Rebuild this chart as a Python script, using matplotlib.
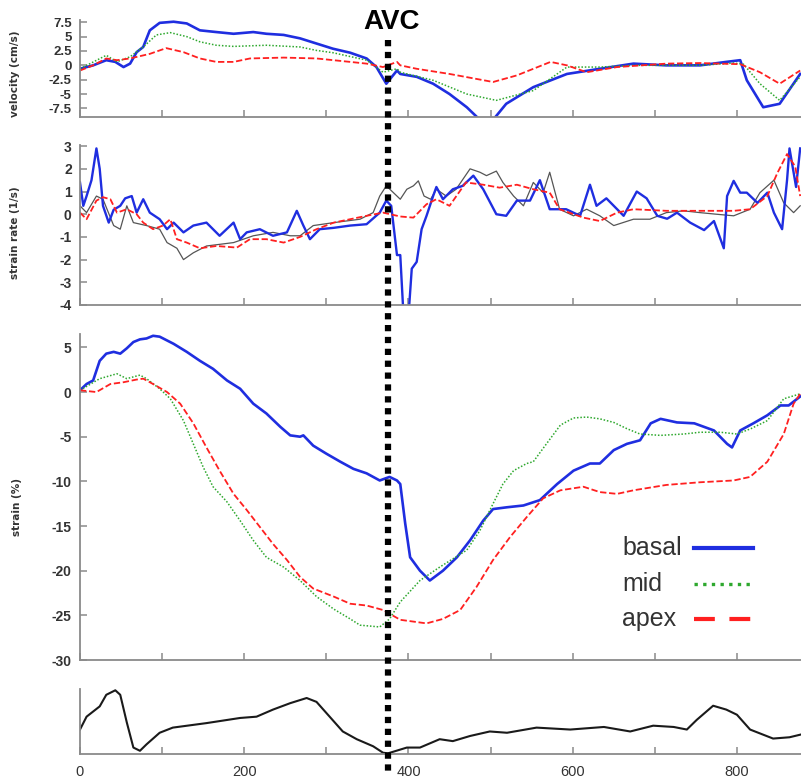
import matplotlib
matplotlib.use("Agg")
import matplotlib.pyplot as plt
from matplotlib.lines import Line2D
from matplotlib.transforms import blended_transform_factory

plt.rcParams['axes.unicode_minus'] = False

# ---------------- data ----------------
AVC = 375
x_ticks = [0, 100, 200, 300, 400, 500, 600, 700, 800]
x_tick_labels = ['0', '', '200', '', '400', '', '600', '', '800']

# velocity (cm/s)
vel_basal_x = [0, 16, 32, 43, 53, 61, 69, 77, 85, 97, 114, 130, 146, 166, 187, 211, 227, 248, 268, 288, 308, 329, 349, 361, 373, 386,
               390, 410, 430, 450, 471, 487, 503, 519, 552, 593, 633, 674, 714, 755, 787, 804, 812, 832, 852, 877]
vel_basal_y = [-0.6, 0.0, 0.9, 0.6, -0.3, 0.3, 2.3, 3.2, 6.1, 7.4, 7.6, 7.3, 6.1, 5.8, 5.5, 5.8, 5.5, 5.3, 4.7, 3.8, 2.9, 2.2, 1.2, -0.3, -3.2, -0.9,
               -1.5, -2.0, -3.2, -5.0, -7.3, -9.5, -9.5, -6.7, -3.8, -1.5, -0.6, 0.3, 0.0, 0.0, 0.6, 0.9, -2.6, -7.3, -6.7, -1.5]
vel_mid_x = [0, 32, 45, 61, 77, 93, 110, 130, 146, 166, 187, 227, 268, 288, 308, 349, 369, 386,
             390, 430, 471, 507, 552, 581, 593, 633, 674, 714, 755, 796, 808, 828, 852, 877]
vel_mid_y = [-0.6, 1.75, 0.6, 1.5, 3.2, 5.3, 5.7, 5.0, 4.1, 3.5, 3.3, 3.5, 3.2, 2.6, 2.2, 0.9, -1.2, -0.6,
             -1.2, -2.6, -5.0, -6.1, -4.4, -1.5, -0.3, -0.3, 0.0, 0.0, 0.0, 0.4, 0.2, -3.2, -6.1, -2.0]
vel_apex_x = [0, 16, 32, 45, 61, 85, 105, 126, 146, 166, 187, 207, 248, 288, 329, 349, 369, 386,
              390, 410, 450, 503, 532, 573, 593, 617, 654, 714, 755, 804, 828, 852, 877]
vel_apex_y = [-0.9, 0.0, 1.2, 0.9, 1.2, 2.0, 3.0, 2.3, 1.2, 0.6, 0.6, 1.2, 1.35, 1.2, 0.6, 0.3, -0.3, 0.6,
              0.0, -0.6, -1.5, -2.9, -1.75, 0.6, 0.0, -1.2, -0.3, 0.3, 0.4, 0.2, -1.2, -3.2, -0.9]

# strain rate (1/s)
sr_basal_x = [0, 4, 8, 14, 20, 24, 28, 35, 41, 49, 55, 63, 69, 77, 85, 97, 106, 114, 126, 138, 154, 170, 187, 195, 203, 219,
              235, 252, 264, 272, 280, 292, 309, 329, 349, 365, 373, 379, 386,
              390, 394, 400, 404, 410, 416, 422, 430, 434, 442, 454, 466, 479, 491, 507, 519, 532, 548, 560, 572, 592,
              609, 621, 629, 641, 662, 678, 690, 703, 715, 727, 743, 760, 772, 784, 788, 796, 804, 812, 825, 837,
              845, 855, 861, 864, 872, 877]
sr_basal_y = [1.4, 0.37, 0.8, 1.5, 2.9, 2.0, 0.37, -0.37, 0.2, 0.37, 0.7, 0.8, 0.07, 0.66, 0.07, -0.22, -0.66, -0.37, -0.8, -0.5,
              -0.37, -0.95, -0.37, -1.1, -0.8, -0.66, -0.95, -0.8, 0.15, -0.5, -1.1, -0.66, -0.6, -0.5, -0.44, 0.07, 0.6, 0.37, -1.8,
              -1.8, -4.5, -4.5, -2.4, -2.1, -0.66, -0.07, 0.8, 1.2, 0.66, 1.1, 1.25, 1.7, 1.1, 0.0, -0.07, 0.6, 0.6, 1.5, 0.22, 0.22,
              -0.07, 1.3, 0.37, 0.7, -0.07, 1.0, 0.7, -0.07, -0.2, 0.07, -0.37, -0.7, -0.3, -1.5, 0.8, 1.47, 0.95, 0.95, 0.5, 0.95,
              0.07, -0.66, 1.5, 2.9, 1.2, 2.9]
sr_mid_x = [0, 8, 20, 28, 41, 49, 57, 65, 81, 97, 106, 118, 126, 138, 154, 187, 211, 235, 256, 268, 284, 309, 341, 357, 365, 373, 386,
            390, 398, 406, 412, 419, 427, 434, 446, 458, 475, 487, 495, 507, 515, 528, 540, 552, 564, 572, 584, 601, 617, 633,
            650, 674, 694, 714, 735, 755, 775, 796, 816, 828, 845, 857, 869, 877]
sr_mid_y = [0.37, 0.07, 0.8, 0.66, -0.5, -0.66, 0.37, -0.37, -0.5, -0.66, -1.25, -1.5, -2.0, -1.7, -1.4, -1.25, -0.95, -0.8, -0.95,
            -0.95, -0.5, -0.37, -0.22, 0.07, 0.8, 1.25, 0.8,
            0.66, 1.1, 1.25, 1.47, 0.8, 0.66, 1.1, 0.8, 1.1, 2.0, 1.85, 1.7, 1.9, 1.4, 0.8, 0.37, 1.4, 0.95, 1.85, 0.22, -0.07, 0.22,
            -0.07, -0.5, -0.22, -0.22, 0.07, 0.15, 0.07, 0.0, -0.07, 0.22, 0.95, 1.5, 0.5, 0.07, 0.37]
sr_apex_x = [0, 8, 20, 28, 37, 45, 57, 69, 77, 89, 101, 110, 118, 130, 146, 166, 191, 207, 227, 248, 268, 288, 309, 329, 349, 369,
             390, 406, 422, 434, 450, 470, 491, 511, 532, 552, 572, 584, 613, 633, 654, 674, 714, 755, 796, 816, 837, 849,
             861, 871, 877]
sr_apex_y = [0.07, -0.22, 0.6, 0.75, 0.66, 0.07, 0.22, 0.0, -0.37, -0.66, -0.5, -0.22, -1.1, -1.25, -1.5, -1.4, -1.47, -1.1, -1.1,
             -1.25, -1.0, -0.66, -0.37, -0.22, -0.07, 0.07, -0.1, -0.15, 0.44, 0.66, 0.37, 1.4, 1.3, 1.17, 1.3, 1.1, 0.95, 0.22,
             -0.15, -0.3, 0.07, 0.22, 0.15, 0.15, 0.15, 0.22, 0.8, 1.8, 2.65, 2.1, 0.8]

# strain (%)
st_basal_x = [0, 8, 16, 24, 32, 41, 49, 57, 65, 73, 81, 89, 97, 114, 130, 146, 162, 179, 195, 211, 227, 244, 256, 268, 272, 284,
              300, 317, 333, 349, 365, 377, 386, 390, 396, 402, 414, 426, 442, 459, 475, 491, 503, 520, 540, 560, 581, 601,
              621, 633, 650, 666, 682, 695, 707, 727, 748, 772, 788, 794, 804, 820, 837, 853, 863, 877]
st_basal_y = [0.2, 0.9, 1.3, 3.5, 4.3, 4.5, 4.3, 4.9, 5.6, 5.9, 6.0, 6.3, 6.2, 5.4, 4.5, 3.5, 2.6, 1.3, 0.37, -1.3, -2.4, -3.9,
              -4.85, -5.0, -4.85, -6.0, -6.9, -7.8, -8.6, -9.1, -9.9, -9.5, -9.9, -10.3, -14.7, -18.5, -20.0, -21.1, -20.0,
              -18.5, -16.6, -14.4, -13.1, -12.9, -12.7, -12.1, -10.3, -8.8, -8.0, -8.0, -6.5, -5.8, -5.4, -3.5, -3.0, -3.4,
              -3.5, -4.3, -5.8, -6.2, -4.3, -3.5, -2.6, -1.5, -1.5, -0.5]
st_mid_x = [0, 24, 45, 57, 73, 81, 97, 110, 126, 138, 150, 162, 179, 195, 211, 227, 248, 268, 288, 309, 329, 341, 365, 377,
            390, 414, 438, 471, 487, 503, 515, 528, 544, 552, 568, 585, 601, 617, 633, 650, 666, 682, 707, 735, 755, 780,
            800, 817, 837, 857, 877]
st_mid_y = [0.2, 1.5, 2.05, 1.5, 1.9, 1.5, 0.37, -0.75, -3.2, -5.8, -8.4, -10.6, -12.3, -14.4, -16.6, -18.5, -19.6, -21.1,
            -22.9, -24.3, -25.4, -26.1, -26.3, -25.4, -23.5, -21.1, -19.6, -17.7, -15.5, -12.5, -10.3, -8.8, -8.0, -7.8,
            -5.8, -3.7, -2.9, -2.8, -3.0, -3.4, -4.1, -4.7, -4.85, -4.7, -4.5, -4.5, -4.7, -4.1, -3.2, -0.75, -0.2]
st_apex_x = [0, 20, 37, 53, 69, 77, 89, 106, 122, 138, 154, 170, 187, 203, 219, 235, 252, 268, 284, 309, 329, 349, 369,
             390, 422, 442, 463, 483, 503, 524, 544, 564, 585, 613, 633, 654, 674, 714, 755, 796, 816, 837, 857, 869, 877]
st_apex_y = [0.2, 0.0, 0.9, 1.1, 1.4, 1.5, 0.9, 0.0, -1.3, -3.5, -6.2, -8.8, -11.4, -13.2, -15.1, -17.0, -18.8, -20.7,
             -22.0, -22.9, -23.7, -23.9, -24.4, -25.5, -25.9, -25.4, -24.4, -21.8, -18.8, -16.2, -14.0, -11.9, -11.0,
             -10.6, -11.2, -11.4, -11.0, -10.4, -10.1, -9.9, -9.5, -7.8, -4.7, -1.3, -0.2]

# ECG (arbitrary units)
ecg_x = [0, 8, 16, 24, 32, 43, 49, 57, 65, 73, 81, 97, 113, 154, 195, 215, 235, 256, 276, 288, 304, 320, 337, 357, 369, 375,
         398, 414, 438, 454, 475, 499, 520, 556, 597, 638, 670, 698, 723, 739, 751, 771, 787, 800, 816, 844, 864, 877]
ecg_y = [0.37, 0.57, 0.65, 0.73, 0.91, 0.98, 0.91, 0.48, 0.09, 0.04, 0.14, 0.32, 0.40, 0.47, 0.55, 0.57, 0.68, 0.78, 0.86,
         0.80, 0.57, 0.34, 0.22, 0.11, 0.01, 0.0, 0.09, 0.09, 0.22, 0.19, 0.27, 0.34, 0.32, 0.40, 0.37, 0.41, 0.34, 0.43,
         0.41, 0.37, 0.52, 0.74, 0.68, 0.60, 0.37, 0.23, 0.25, 0.29]

series_labels = ['basal', 'mid', 'apex']

# ---------------- styling ----------------
BLUE = '#1f2ee0'
GREEN = '#2ea82e'
RED = '#ff2020'
GRAY_LINE = '#555555'
SPINE = '#8a8a8a'
TXT = '#333333'
TICK_FONT = ['Liberation Sans Narrow', 'Liberation Sans', 'DejaVu Sans']

W, H = 801, 781
fig = plt.figure(figsize=(W / 100, H / 100), dpi=100)

def add_axes(top, bottom):
    return fig.add_axes([80 / W, 1 - bottom / H, 721 / W, (bottom - top) / H])

ax1 = add_axes(20, 117)
ax2 = add_axes(145, 305)
ax3 = add_axes(334, 660)
ax4 = add_axes(689, 754)

for ax in (ax1, ax2, ax3, ax4):
    ax.set_xlim(0, 878)
    for s in ('top', 'right'):
        ax.spines[s].set_visible(False)
    for s in ('left', 'bottom'):
        ax.spines[s].set_color(SPINE)
        ax.spines[s].set_linewidth(1.3)
    ax.set_xticks(x_ticks)
    ax.tick_params(axis='both', direction='in', length=5, width=1.1, color=SPINE,
                   labelcolor=TXT, labelsize=10, pad=6)

for ax in (ax1, ax2, ax3):
    ax.set_xticklabels([])

# panel 1: velocity
ax1.plot(vel_basal_x, vel_basal_y, color=BLUE, lw=1.9)
ax1.plot(vel_mid_x, vel_mid_y, color=GREEN, lw=1.1, linestyle=(0, (1, 1.2)))
ax1.plot(vel_apex_x, vel_apex_y, color=RED, lw=1.3, linestyle=(0, (3.5, 1.5)))
ax1.set_ylim(-9.0, 7.9)
ax1.set_yticks([7.5, 5, 2.5, 0, -2.5, -5, -7.5])
ax1.set_yticklabels(['7.5', '5', '2.5', '0', '-2.5', '-5', '-7.5'], fontfamily=TICK_FONT, fontweight='bold',
                    fontsize=9.5)
ax1.set_ylabel('velocity (cm/s)', fontsize=7.5, fontweight='bold', color=TXT)
ax1.yaxis.set_label_coords(-0.083, 0.45)

# panel 2: strain rate
ax2.plot(sr_mid_x, sr_mid_y, color=GRAY_LINE, lw=0.9)
ax2.plot(sr_basal_x, sr_basal_y, color=BLUE, lw=1.7)
ax2.plot(sr_apex_x, sr_apex_y, color=RED, lw=1.3, linestyle=(0, (3.5, 1.5)))
ax2.set_ylim(-4, 3.05)
ax2.set_yticks([3, 2, 1, 0, -1, -2, -3, -4])
ax2.set_yticklabels(['3', '2', '1', '0', '-1', '-2', '-3', '-4'], fontfamily=TICK_FONT, fontweight='bold', fontsize=10)
ax2.set_ylabel('strain rate (1/s)', fontsize=7.5, fontweight='bold', color=TXT)
ax2.yaxis.set_label_coords(-0.083, 0.45)

# panel 3: strain
ax3.plot(st_basal_x, st_basal_y, color=BLUE, lw=1.9)
ax3.plot(st_mid_x, st_mid_y, color=GREEN, lw=1.1, linestyle=(0, (1, 1.2)))
ax3.plot(st_apex_x, st_apex_y, color=RED, lw=1.3, linestyle=(0, (3.5, 1.5)))
ax3.set_ylim(-30, 6.5)
ax3.set_yticks([5, 0, -5, -10, -15, -20, -25, -30])
ax3.set_yticklabels(['5', '0', '-5', '-10', '-15', '-20', '-25', '-30'], fontfamily=TICK_FONT, fontweight='bold',
                    fontsize=10)
ax3.set_ylabel('strain (%)', fontsize=7.5, fontweight='bold', color=TXT)
ax3.yaxis.set_label_coords(-0.080, 0.47)

# legend (label left, key right, like the original figure)
legend_styles = [
    dict(color=BLUE, lw=3.0, linestyle='-'),
    dict(color=GREEN, lw=2.4, linestyle=(0, (1, 1.6))),
    dict(color=RED, lw=3.0, linestyle=(0, (5, 3.5))),
]
row_y = [0.344, 0.232, 0.125]
for lab, sty, yy in zip(series_labels, legend_styles, row_y):
    ax3.text(0.752, yy, lab, transform=ax3.transAxes, ha='left', va='center', fontsize=18,
             family=['Liberation Sans', 'DejaVu Sans'], color=TXT)
    ax3.add_line(Line2D([0.851, 0.933], [yy, yy], transform=ax3.transAxes, **sty))

# panel 4: ECG
ax4.plot(ecg_x, ecg_y, color='#1a1a1a', lw=1.5)
ax4.set_ylim(-0.01, 1.0)
ax4.set_yticks([])
ax4.set_xticklabels(x_tick_labels, fontfamily=TICK_FONT, fontsize=10.5, color=TXT)
ax4.tick_params(axis='x', pad=8)

# AVC marker
trans = blended_transform_factory(ax1.transData, fig.transFigure)
fig.add_artist(Line2D([AVC, AVC], [1 - 40 / H, 1 - 776 / H], transform=trans, color='black', lw=4.5,
                      linestyle=(0, (1, 0.9)), dash_capstyle='butt'))
fig.text(AVC + 5, 1 - 22 / H, 'AVC', transform=trans, ha='center', va='center', fontsize=20, fontweight='bold',
         family=['Liberation Sans', 'DejaVu Sans'], color='black')

fig.savefig('out.png', dpi=100)
